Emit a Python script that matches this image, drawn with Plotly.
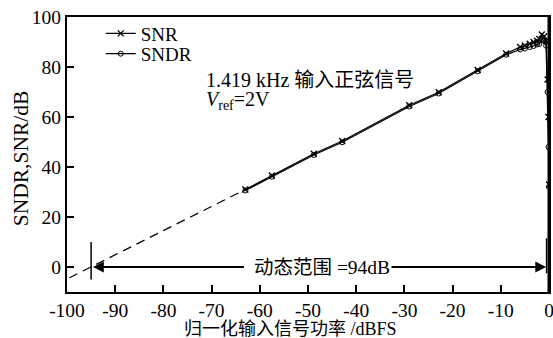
import plotly.graph_objects as go

# Measured SNR / SNDR versus normalised input power (1.419 kHz sine input)
input_dbfs = [-63.0, -57.5, -48.8, -42.9, -29.0, -22.9, -14.8, -8.9, -6.0, -5.0,
              -4.0, -3.2, -2.5, -2.0, -1.5, -1.0, -0.6, -0.3, -0.1, 0.0]
snr_db = [31.0, 36.6, 45.3, 50.4, 64.7, 69.9, 78.8, 85.4, 88.0, 88.6,
          89.3, 90.0, 90.5, 91.2, 93.0, 92.3, 90.5, 75.0, 60.0, 33.0]
sndr_db = [30.6, 36.1, 44.8, 49.9, 64.2, 69.4, 78.3, 84.9, 87.0, 87.4,
           88.0, 88.4, 89.0, 89.2, 91.0, 90.6, 88.5, 70.0, 48.0, 32.0]

# Straight-line extrapolation of the low-level trend down to the 0 dB crossing
extrap_x = [-99.5, -63.0]
extrap_y = [-4.3, 31.0]

# Dynamic range limits
dr_low = -95.0
dr_high = -0.5
dr_value = 94

x_ticks = [-100, -90, -80, -70, -60, -50, -40, -30, -20, -10, 0]
y_ticks = [0, 20, 40, 60, 80, 100]

SERIF = "'Liberation Serif', 'Noto Sans CJK SC', serif"

fig = go.Figure()

fig.add_trace(go.Scatter(
    x=extrap_x, y=extrap_y, mode="lines", showlegend=False,
    line=dict(color="black", width=1.3, dash="9px,6px"), hoverinfo="skip"))

fig.add_trace(go.Scatter(
    x=input_dbfs, y=snr_db, mode="lines+markers", name="SNR", legend="legend",
    line=dict(color="black", width=1.3),
    marker=dict(symbol="x-thin", size=6, color="black",
                line=dict(color="black", width=1.3))))

fig.add_trace(go.Scatter(
    x=input_dbfs, y=sndr_db, mode="lines+markers", name="SNDR", legend="legend2",
    line=dict(color="black", width=1.3),
    marker=dict(symbol="circle-open", size=5, color="black",
                line=dict(color="black", width=1))))

# Vertical markers bounding the dynamic range
fig.add_shape(type="line", x0=dr_low, x1=dr_low, y0=-5, y1=10,
              line=dict(color="black", width=1.5))
fig.add_shape(type="line", x0=dr_high, x1=dr_high, y0=-2.5, y1=11.5,
              line=dict(color="black", width=1.5))
# Heavier right-hand frame edge
fig.add_shape(type="line", xref="paper", yref="paper", x0=1, x1=1, y0=0, y1=1,
              line=dict(color="black", width=3))

# Arrows pointing from the label to each limit
fig.add_annotation(x=dr_low + 0.4, y=0, ax=-63, ay=0, axref="x", ayref="y",
                   xref="x", yref="y", text="", showarrow=True,
                   arrowhead=2, arrowsize=1.2, arrowwidth=1.8, arrowcolor="black")
fig.add_annotation(x=dr_high - 0.1, y=0, ax=-33.3, ay=0, axref="x", ayref="y",
                   xref="x", yref="y", text="", showarrow=True,
                   arrowhead=2, arrowsize=1.2, arrowwidth=1.8, arrowcolor="black")
fig.add_annotation(x=-47, y=0, xref="x", yref="y", showarrow=False,
                   text=f"动态范围 ={dr_value}dB",
                   font=dict(family=SERIF, size=19.5, color="black"),
                   bgcolor="white")

fig.add_annotation(x=-71.5, y=75, xref="x", yref="y", showarrow=False,
                   xanchor="left", yanchor="middle",
                   text="1.419 kHz 输入正弦信号",
                   font=dict(family=SERIF, size=20, color="black"))
fig.add_annotation(x=-71.5, y=66.5, xref="x", yref="y", showarrow=False,
                   xanchor="left", yanchor="middle",
                   text="<i>V</i><sub>ref</sub>=2V",
                   font=dict(family=SERIF, size=20, color="black"))

# Axis titles
fig.add_annotation(x=0.463, y=-0.136, xref="paper", yref="paper", showarrow=False,
                   xanchor="center", yanchor="middle",
                   text="归一化输入信号功率 /dBFS",
                   font=dict(family=SERIF, size=18, color="black"))
fig.add_annotation(x=-0.095, y=0.487, xref="paper", yref="paper", showarrow=False,
                   xanchor="center", yanchor="middle", textangle=-90,
                   text="SNDR,SNR/dB",
                   font=dict(family=SERIF, size=21.5, color="black"))

legend_style = dict(xanchor="left", yanchor="middle", bgcolor="rgba(0,0,0,0)",
                    itemwidth=30, font=dict(family=SERIF, size=19))

fig.update_layout(
    width=553, height=338,
    margin=dict(l=67, r=4, t=17, b=46),
    paper_bgcolor="white", plot_bgcolor="white",
    font=dict(family=SERIF, size=19.5, color="black"),
    legend=dict(x=0.07, y=0.94, **legend_style),
    legend2=dict(x=0.07, y=0.866, **legend_style),
    xaxis=dict(range=[-100, 0], tickvals=x_ticks,
               ticktext=[str(v) for v in x_ticks],
               ticks="inside", ticklen=7, tickwidth=1.5, tickcolor="black",
               showline=True, linewidth=2, linecolor="black", mirror=True,
               showgrid=False, zeroline=False, automargin=False,
               ticklabeloverflow="allow",
               tickfont=dict(family=SERIF, size=19.5)),
    yaxis=dict(range=[-10, 100], tickvals=y_ticks,
               ticks="inside", ticklen=7, tickwidth=1.5, tickcolor="black",
               showline=True, linewidth=2, linecolor="black", mirror=True,
               showgrid=False, zeroline=False, automargin=False,
               ticklabeloverflow="allow",
               tickfont=dict(family=SERIF, size=19.5)),
)

fig.write_html("out.html")
